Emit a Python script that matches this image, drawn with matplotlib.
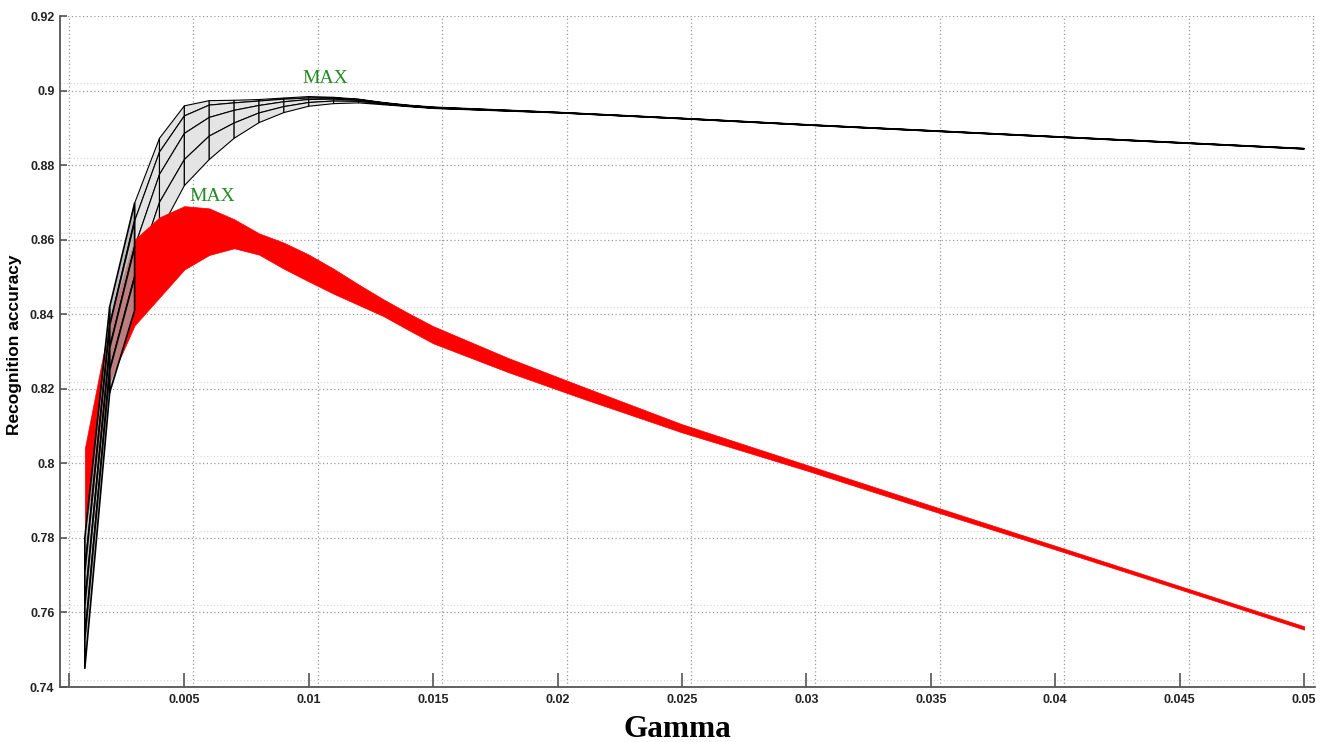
import matplotlib
matplotlib.use("Agg")
import matplotlib.pyplot as plt
from matplotlib.collections import PolyCollection
import numpy as np

# gamma samples of the wire-frame (black) surface
gamma = [0.001, 0.002, 0.003, 0.004, 0.005, 0.006, 0.007, 0.008, 0.009, 0.010, 0.011,
         0.012, 0.013, 0.014, 0.015, 0.020, 0.025, 0.030, 0.035, 0.040, 0.045, 0.050]

# rows of the black surface, back (top) to front (bottom)
black_a = [0.780, 0.842, 0.8698, 0.8872, 0.8959, 0.8973, 0.8974, 0.8976, 0.8980, 0.8984, 0.8982,
           0.8977, 0.8968, 0.8961, 0.8956, 0.8942, 0.8926, 0.8909, 0.8893, 0.8877, 0.8861, 0.8845]
black_b = [0.771, 0.837, 0.8650, 0.8835, 0.8932, 0.8961, 0.8967, 0.8972, 0.8977, 0.8980, 0.8980,
           0.8976, 0.8967, 0.8960, 0.8955, 0.89415, 0.89255, 0.89085, 0.88925, 0.88765, 0.88605, 0.88445]
black_c = [0.762, 0.831, 0.8580, 0.8775, 0.8885, 0.8928, 0.8947, 0.8960, 0.8970, 0.8976, 0.8977,
           0.8974, 0.8966, 0.8959, 0.8954, 0.8941, 0.8925, 0.8908, 0.8892, 0.8876, 0.8860, 0.8844]
black_d = [0.753, 0.825, 0.8500, 0.8700, 0.8815, 0.8878, 0.8913, 0.8940, 0.8957, 0.8968, 0.8972,
           0.8971, 0.8964, 0.8958, 0.8953, 0.89405, 0.89245, 0.89075, 0.88915, 0.88755, 0.88595, 0.88435]
black_e = [0.745, 0.819, 0.8410, 0.8620, 0.8745, 0.8815, 0.8872, 0.8914, 0.8941, 0.8958, 0.8965,
           0.8967, 0.8962, 0.8957, 0.8952, 0.8940, 0.8924, 0.8907, 0.8891, 0.8875, 0.8859, 0.8843]
black_rows = [black_a, black_b, black_c, black_d, black_e]

# red surface: upper and lower envelope
red_gamma = [0.001, 0.002, 0.003, 0.004, 0.005, 0.006, 0.007, 0.008, 0.009, 0.010, 0.011, 0.012,
             0.013, 0.014, 0.015, 0.018, 0.021, 0.025, 0.030, 0.035, 0.040, 0.045, 0.050]
red_top = [0.804, 0.838, 0.8600, 0.8660, 0.8690, 0.8684, 0.8655, 0.8617, 0.8592, 0.8560, 0.8522, 0.8480,
           0.8440, 0.8403, 0.8368, 0.8283, 0.8206, 0.8105, 0.7996, 0.7887, 0.7779, 0.7671, 0.7563]
red_bot = [0.782, 0.822, 0.8370, 0.8445, 0.8520, 0.8559, 0.8577, 0.8560, 0.8522, 0.8488, 0.8455, 0.8425,
           0.8395, 0.8358, 0.8322, 0.8245, 0.8174, 0.8083, 0.7981, 0.7874, 0.7769, 0.7662, 0.7554]

xticks = [0.005, 0.01, 0.015, 0.02, 0.025, 0.03, 0.035, 0.04, 0.045, 0.05]
xtick_labels = ["0.005", "0.01", "0.015", "0.02", "0.025", "0.03", "0.035", "0.04", "0.045", "0.05"]
yticks = [0.74, 0.76, 0.78, 0.80, 0.82, 0.84, 0.86, 0.88, 0.90, 0.92]
ytick_labels = ["0.74", "0.76", "0.78", "0.8", "0.82", "0.84", "0.86", "0.88", "0.9", "0.92"]

fig = plt.figure(figsize=(13.29, 7.42), dpi=100)
ax = fig.add_axes([0.0451, 0.0741, 0.9444, 0.9043])
ax.set_xlim(0, 0.05044)
ax.set_ylim(0.74, 0.92)

# grid of the back plane is shifted a bit to the right of the ticks (3-D view)
grid_shift = 0.00036
gc = "#9a9a9a"
for gx in [0] + xticks:
    ax.axvline(gx + grid_shift, color=gc, ls=(0, (1, 2)), lw=0.9, zorder=0)
for gy in yticks:
    ax.axhline(gy, color=gc, ls=(0, (1, 2)), lw=0.9, zorder=0)
    ax.axhline(gy + 0.0019, color="#d6d6d6", ls=(0, (1, 2)), lw=0.8, zorder=0)

# red surface
ax.fill_between(red_gamma, red_bot, red_top, color="#ff0000", lw=0.5, ec="#ff0000", zorder=3)

# black wire-frame surface
front, back = [], []
for i in range(len(gamma) - 1):
    for j in range(len(black_rows) - 1):
        r0, r1 = black_rows[j], black_rows[j + 1]
        quad = [(gamma[i], r0[i]), (gamma[i + 1], r0[i + 1]),
                (gamma[i + 1], r1[i + 1]), (gamma[i], r1[i])]
        if i < 2:
            front.append(quad)
        else:
            back.append(quad)
ax.add_collection(PolyCollection(back, facecolors="#e4e4e4", edgecolors="k", linewidths=0.8, zorder=2))
ax.add_collection(PolyCollection(front, facecolors=(0.66, 0.66, 0.66, 0.75), edgecolors="k",
                                 linewidths=1.2, zorder=4))

ax.text(0.01066, 0.9033, "MAX", color="#228b22", fontsize=14, family="Liberation Serif",
        ha="center", va="center", zorder=5)
ax.text(0.00613, 0.8716, "MAX", color="#228b22", fontsize=14, family="Liberation Serif",
        ha="center", va="center", zorder=5)

ax.set_xticks(xticks)
ax.set_xticklabels(xtick_labels)
ax.set_xticks([grid_shift], minor=True)
ax.set_yticks(yticks)
ax.set_yticklabels(ytick_labels)
ax.tick_params(axis="x", which="both", direction="in", length=10, width=1.2, color="#555555", pad=5)
ax.tick_params(axis="y", direction="in", length=5, width=1.2, color="#555555", pad=4)
for lab in ax.get_xticklabels() + ax.get_yticklabels():
    lab.set_family("Liberation Sans")
    lab.set_fontweight("bold")
    lab.set_fontsize(9)
    lab.set_color("#222222")

for s in ["top", "right"]:
    ax.spines[s].set_visible(False)
for s in ["left", "bottom"]:
    ax.spines[s].set_color("#555555")
    ax.spines[s].set_linewidth(1.3)

fig.text(15 / 1329, 0.535, "Recognition accuracy", rotation=90, ha="center", va="center",
         fontsize=12.5, fontweight="bold", family="Liberation Sans")
fig.text(0.510, 0.0067, "Gamma", ha="center", va="baseline", fontsize=22.5, fontweight="bold",
         family="Liberation Serif")

fig.savefig("out.png", dpi=100)
